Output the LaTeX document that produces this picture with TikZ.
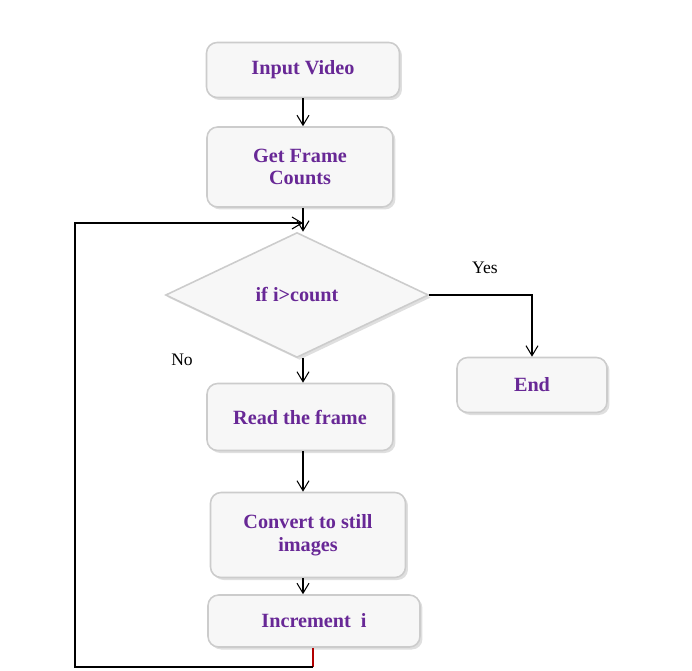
\documentclass[tikz,border=0pt]{standalone}
\usepackage{fontspec}
\setmainfont{Liberation Serif}
\usetikzlibrary{shapes.geometric, arrows.meta, positioning, calc, shadows}

\definecolor{boxtext}{RGB}{104,40,150}

\begin{document}
\begin{tikzpicture}[
  x=0.02cm, y=-0.02cm,
  stepbox/.style={draw=gray!40, line width=0.9pt, fill=gray!6, rectangle, rounded corners=6pt, align=center, font=\fontsize{11.5}{13}\selectfont\bfseries, text=boxtext, drop shadow={opacity=0.25, shadow xshift=0.5mm, shadow yshift=-0.5mm}},
  decision/.style={draw=gray!40, line width=0.9pt, fill=gray!6, diamond, inner sep=0pt, align=center, font=\fontsize{11.5}{13}\selectfont\bfseries, text=boxtext, drop shadow={opacity=0.25, shadow xshift=0.5mm, shadow yshift=-0.5mm}},
  tag/.style={fill=white, font=\fontsize{10}{12}\selectfont, inner sep=4pt},
  flow/.style={-{Straight Barb[length=2mm, width=2.4mm]}, line width=0.6pt}
]
\useasboundingbox (0,0) rectangle (692,670);

% Main column
\node[stepbox, minimum width=3.86cm, minimum height=1.1cm] (input) at (303,70) {Input Video};
\node[stepbox, minimum width=3.72cm, minimum height=1.6cm] (frames) at (300,167) {Get Frame\\Counts};
\node[decision, minimum width=5.26cm, minimum height=2.5cm] (cond) at (297,295) {if i>count};
\node[stepbox, minimum width=3.72cm, minimum height=1.34cm] (read) at (300,417) {Read the frame};
\node[stepbox, minimum width=3.9cm, minimum height=1.7cm] (convert) at (308,535) {Convert to still\\images};
\node[stepbox, minimum width=4.24cm, minimum height=1.04cm] (incr) at (314,621) {Increment~~i};

% End box
\node[stepbox, minimum width=3cm, minimum height=1.1cm] (end) at (532,385) {End};

% Labels
\node[tag] (yes) at (485,268) {Yes};
\node[tag] (no) at (182,360) {No};

% Loop points
\coordinate (join) at (303,223);
\coordinate (loopL) at (75,667);
\coordinate (loopR) at (313,667);

% Connections
\draw[flow] (input.south -| join) -- (frames.north -| join);
\draw[flow] (frames.south -| join) -- (cond.north -| join);
\draw[flow] (cond.south -| join) -- (read.north -| join);
\draw[flow] (read.south -| join) -- (convert.north -| join);
\draw[flow] (convert.south -| join) -- (incr.north -| join);
\draw[flow] (cond.east) -| (end.north);

% Loop back
\draw[red!70!black, line width=0.6pt] (incr.south -| loopR) -- (loopR);
\draw[flow] (loopR) -- (loopL) |- (join);

\end{tikzpicture}
\end{document}
